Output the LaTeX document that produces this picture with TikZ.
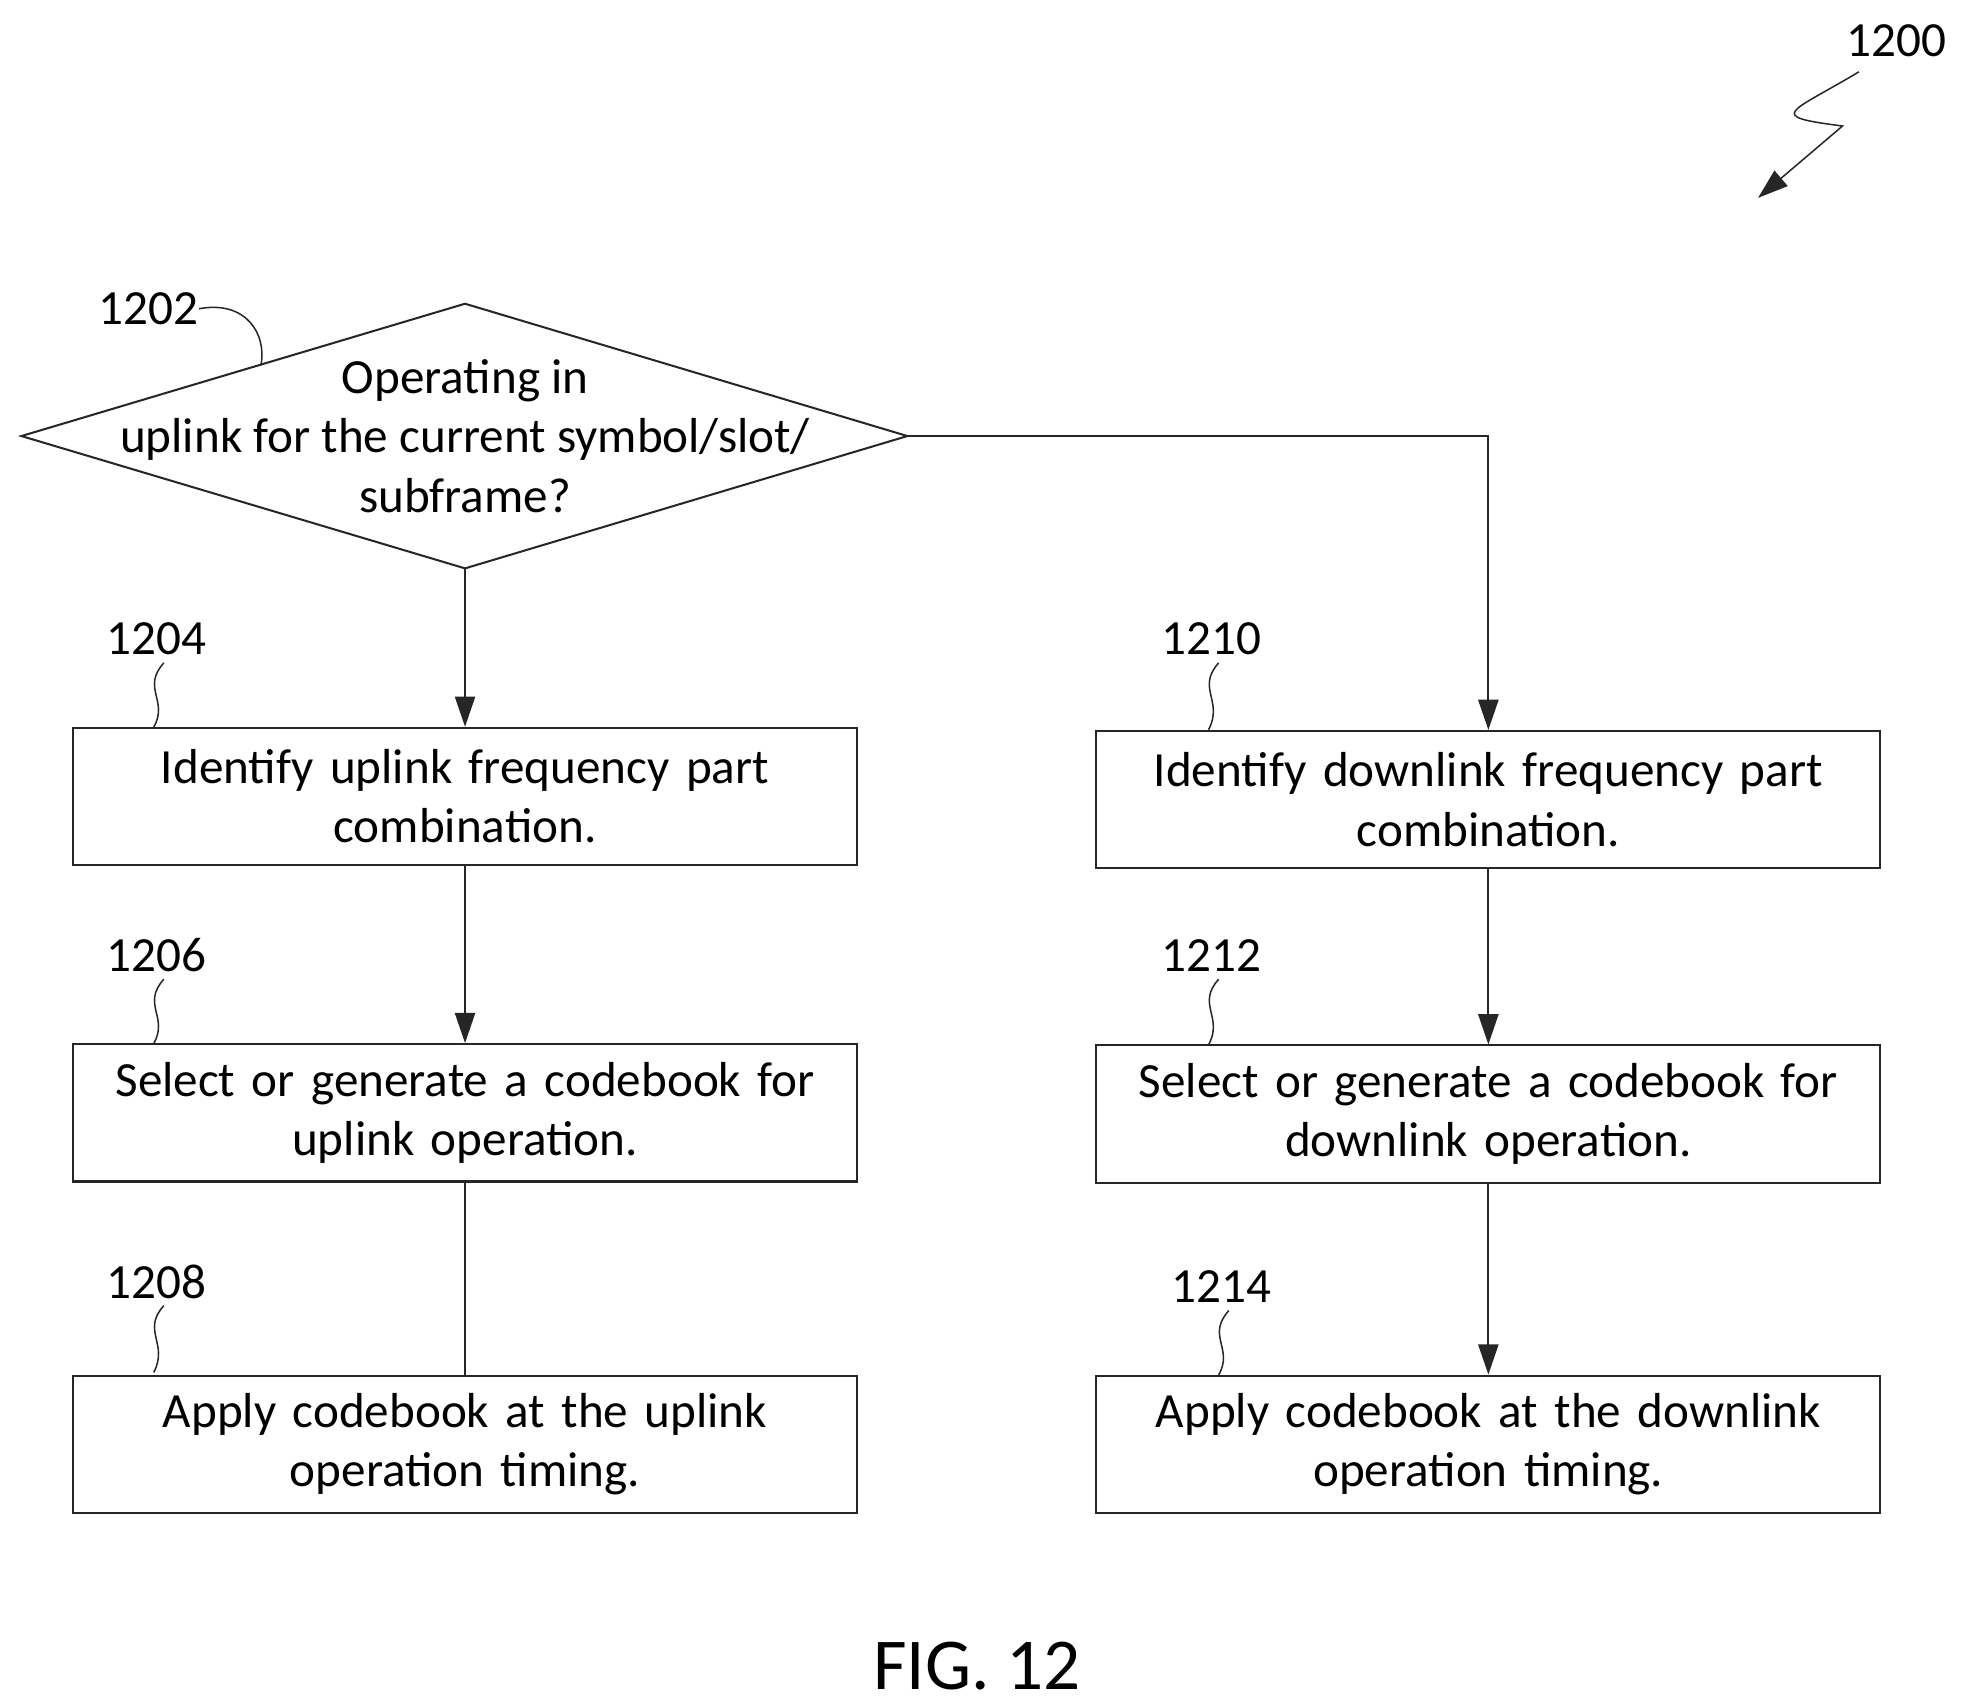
\documentclass[tikz,border=0pt]{standalone}
\usepackage{fontspec}
\setmainfont{Carlito}
\usetikzlibrary{arrows.meta}
\begin{document}
\begin{tikzpicture}[x=0.5pt,y=-0.5pt,
  box/.style={draw=black!85,line width=0.8pt,minimum width=311pt,minimum height=54.5pt,inner sep=0pt,align=center,text width=290pt,font=\fontsize{19.5}{23.5}\selectfont},
  lbl/.style={font=\fontsize{19.5}{24}\selectfont,inner sep=0pt},
  conn/.style={draw=black!85,line width=0.8pt},
  arr/.style={conn,-{Triangle[length=12pt,width=8pt]}},
  sq/.style={draw=black!85,line width=0.6pt}]
\useasboundingbox (0,0) rectangle (1560,1354);
% diamond
\coordinate (dt) at (369,241); \coordinate (db) at (369,451);
\coordinate (dl) at (17,346); \coordinate (dr) at (720,346);
\draw[conn] (dt) -- (dr) -- (db) -- (dl) -- cycle;
\node[align=center,font=\fontsize{19.5}{23.5}\selectfont,inner sep=0pt] (d) at (369,346) {Operating in\\uplink for the current symbol/slot/\\subframe?};
% boxes
\node[box] (b1204) at (369,632) {Identify uplink frequency part\\combination.};
\node[box] (b1206) at (369,883) {Select or generate a codebook for\\uplink operation.};
\node[box] (b1208) at (369,1146) {Apply codebook at the uplink\\operation timing.};
\node[box] (b1210) at (1181,634.5) {Identify downlink frequency part\\combination.};
\node[box] (b1212) at (1181,884) {Select or generate a codebook for\\downlink operation.};
\node[box] (b1214) at (1181,1146) {Apply codebook at the downlink\\operation timing.};
% connectors
\draw[arr] (db) -- (b1204.north);
\draw[arr] (b1204) -- (b1206);
\draw[conn] (b1206) -- (b1208);
\coordinate (c1) at (1181,346);
\draw[arr] (dr) -- (c1) -- (b1210.north);
\draw[arr] (b1210) -- (b1212);
\draw[arr] (b1212) -- (b1214);
% labels
\node[lbl] (l1202) at (118,245) {1202};
\draw[sq] (l1202.east) .. controls (195,238) and (212,265) .. (207,290);
\node[lbl] (l1204) at (124,507) {1204};
\node[lbl] (l1206) at (124,758) {1206};
\node[lbl] (l1208) at (124,1017) {1208};
\node[lbl] (l1210) at (961,507) {1210};
\node[lbl] (l1212) at (961,758) {1212};
\node[lbl] (l1214) at (969,1021) {1214};
\foreach \x/\y/\e in {124/526/577, 124/777/828, 124/1036/1089, 961/526/579, 961/777/829, 969/1040/1091}{
  \draw[sq] (\x+6,\y) .. controls (\x-12,\y+20) and (\x+10,\y+30) .. (\x-2,\e);
}
\node[lbl] (l1200) at (1505,32) {1200};
\coordinate (a1200) at (1395,157);
\draw[sq,-{Triangle[length=12pt,width=8pt]}] (1475,57) .. controls (1420,90) and (1400,92) .. (1462,100) -- (a1200);
\node[font=\fontsize{29}{34}\selectfont,inner sep=0pt] (fig) at (775,1322) {FIG. 12};
\end{tikzpicture}
\end{document}
